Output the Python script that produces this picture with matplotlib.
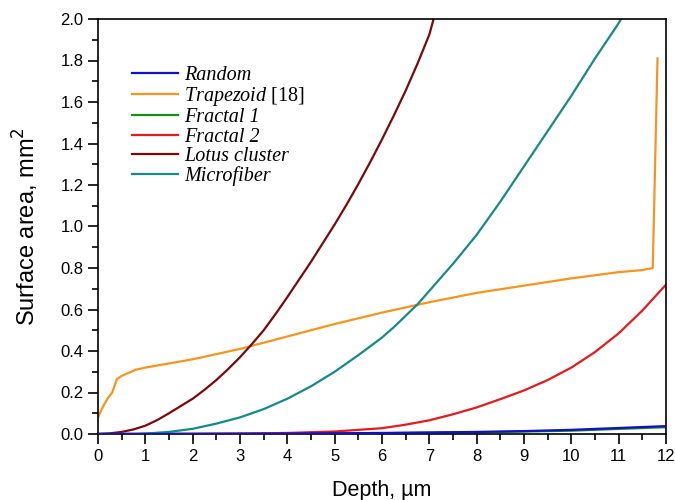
import matplotlib
matplotlib.use('Agg')
import matplotlib.pyplot as plt
from matplotlib.ticker import MultipleLocator

plt.rcParams['font.family'] = ['Liberation Sans', 'DejaVu Sans']
plt.rcParams['mathtext.fontset'] = 'custom'
plt.rcParams['mathtext.rm'] = 'Liberation Serif'
plt.rcParams['mathtext.it'] = 'Liberation Serif:italic'

# Random
random_x = [0, 2, 4, 6, 8, 9, 10, 11, 12]
random_y = [0, 0.0005, 0.002, 0.005, 0.01, 0.014, 0.02, 0.029, 0.038]

# Trapezoid [18]
trap_x = [0, 0.1, 0.2, 0.3, 0.4, 0.5, 0.65, 0.8, 1, 1.5, 2, 2.5, 3, 3.5, 4, 5, 6, 7, 8, 9,
          10, 11, 11.5, 11.72, 11.82]
trap_y = [0.08, 0.13, 0.17, 0.2, 0.265, 0.28, 0.295, 0.31, 0.32, 0.34, 0.36, 0.385, 0.41,
          0.44, 0.47, 0.53, 0.585, 0.635, 0.68, 0.715, 0.75, 0.78, 0.79, 0.80, 1.81]

# Fractal 1 (hidden under Random)
fr1_x = [0, 2, 4, 6, 8, 10, 12]
fr1_y = [0, 0.0004, 0.0015, 0.004, 0.008, 0.016, 0.033]

# Fractal 2
fr2_x = [0, 2, 3, 4, 5, 6, 6.5, 7, 7.5, 8, 8.5, 9, 9.5, 10, 10.5, 11, 11.5, 12]
fr2_y = [0, 0.001, 0.002, 0.005, 0.012, 0.028, 0.045, 0.066, 0.095, 0.128, 0.168, 0.21,
         0.26, 0.32, 0.395, 0.485, 0.595, 0.72]

# Lotus cluster
lotus_x = [0, 0.25, 0.5, 0.75, 1, 1.25, 1.5, 1.75, 2, 2.25, 2.5, 2.75, 3, 3.25, 3.5, 3.75,
           4, 4.25, 4.5, 4.75, 5, 5.25, 5.5, 5.75, 6, 6.25, 6.5, 6.75, 7, 7.09]
lotus_y = [0, 0.003, 0.01, 0.022, 0.04, 0.067, 0.10, 0.135, 0.17, 0.213, 0.26, 0.313,
           0.37, 0.433, 0.50, 0.578, 0.66, 0.745, 0.83, 0.92, 1.01, 1.105, 1.205, 1.31,
           1.42, 1.535, 1.655, 1.785, 1.925, 2.0]

# Microfiber
micro_x = [0, 0.8, 1, 1.5, 2, 2.5, 3, 3.5, 4, 4.5, 5, 5.5, 6, 6.25, 6.5, 6.75, 7, 7.25,
           7.5, 7.75, 8, 8.25, 8.5, 8.75, 9, 9.25, 9.5, 9.75, 10, 10.25, 10.5, 10.75, 11,
           11.05]
micro_y = [0, 0, 0.002, 0.01, 0.025, 0.05, 0.08, 0.12, 0.17, 0.23, 0.30, 0.38, 0.465,
           0.515, 0.57, 0.625, 0.69, 0.755, 0.82, 0.89, 0.96, 1.04, 1.12, 1.205, 1.29,
           1.375, 1.46, 1.545, 1.63, 1.72, 1.81, 1.895, 1.98, 2.0]

fig = plt.figure(figsize=(6.75, 5), dpi=100)
ax = fig.add_axes([0.1452, 0.132, 0.8415, 0.830])

lw = 1.6
h_fr1, = ax.plot(fr1_x, fr1_y, color='#1a8a1a', lw=lw, zorder=2)
h_rand, = ax.plot(random_x, random_y, color='#1010c8', lw=lw, zorder=3)
h_trap, = ax.plot(trap_x, trap_y, color='#f7941d', lw=lw)
h_fr2, = ax.plot(fr2_x, fr2_y, color='#e41a1c', lw=lw)
h_lot, = ax.plot(lotus_x, lotus_y, color='#7a0a0a', lw=lw)
h_mic, = ax.plot(micro_x, micro_y, color='#17898a', lw=lw)

handles = [h_rand, h_trap, h_fr1, h_fr2, h_lot, h_mic]
labels = ['Random', r'Trapezoid $\mathrm{[18]}$', 'Fractal 1', 'Fractal 2',
          'Lotus cluster', 'Microfiber']
ax.legend(handles, labels, loc='upper left', bbox_to_anchor=(0.035, 0.92), frameon=False,
          prop={'family': 'Liberation Serif', 'style': 'italic', 'size': 14.5},
          handlelength=2.3, handletextpad=0.3, labelspacing=0.0, borderpad=0.2)

ax.set_xlim(0, 12)
ax.set_ylim(0, 2.0)
ax.xaxis.set_major_locator(MultipleLocator(1))
ax.xaxis.set_minor_locator(MultipleLocator(0.5))
ax.yaxis.set_major_locator(MultipleLocator(0.2))
ax.yaxis.set_minor_locator(MultipleLocator(0.1))
ax.yaxis.set_major_formatter(plt.FuncFormatter(lambda v, p: '{:.1f}'.format(v)))
ax.tick_params(which='major', direction='out', length=7, width=1.2, labelsize=12)
ax.tick_params(which='minor', direction='out', length=4, width=1.2)
for s in ax.spines.values():
    s.set_linewidth(1.2)

ax.set_xlabel('Depth, µm', fontsize=15.5, labelpad=12)
ax.set_ylabel('Surface area, mm$^2$', fontsize=17, labelpad=14)
ax.yaxis.label.set_math_fontfamily('dejavusans')

fig.savefig('out.png', dpi=100)
